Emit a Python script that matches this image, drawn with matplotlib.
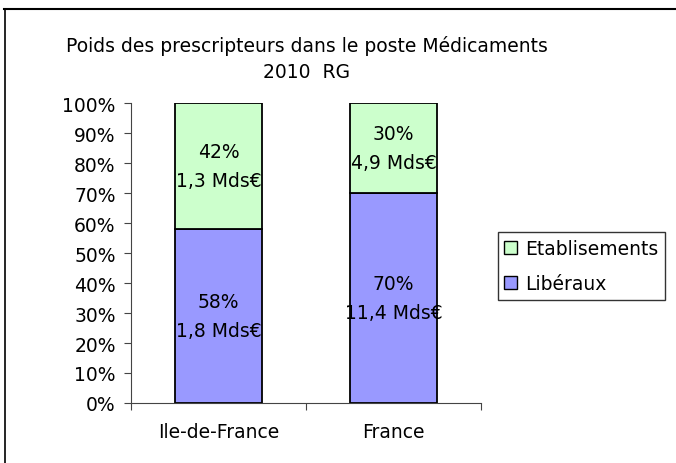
import matplotlib
matplotlib.use("Agg")
import matplotlib.pyplot as plt
from matplotlib.lines import Line2D
from matplotlib.patches import Patch

categories = ["Ile-de-France", "France"]
liberaux = [58, 70]
etablissements = [42, 30]
lib_labels = ["58%\n1,8 Mds€", "70%\n11,4 Mds€"]
etab_labels = ["42%\n1,3 Mds€", "30%\n4,9 Mds€"]
yticks = list(range(0, 101, 10))
title = "Poids des prescripteurs dans le poste Médicaments\n2010  RG"

plt.rcParams['font.family'] = ['DejaVu Sans']
FS = 13.5

fig = plt.figure(figsize=(6.76, 4.64), dpi=100)
W, H = 676, 464
ax = fig.add_axes([131 / W, 1 - 404 / H, 350 / W, 300 / H])

green = "#CCFFCC"
blue = "#9999FF"
x = [0, 1]
ax.bar(x, liberaux, width=0.5, color=blue, edgecolor="black", linewidth=1.3)
ax.bar(x, etablissements, bottom=liberaux, width=0.5, color=green, edgecolor="black", linewidth=1.3)

for i in range(len(categories)):
    ax.text(x[i], liberaux[i] / 2, lib_labels[i], ha="center", va="center",
            fontsize=FS, linespacing=1.65)
    ax.text(x[i], liberaux[i] + etablissements[i] / 2, etab_labels[i], ha="center", va="center",
            fontsize=FS, linespacing=1.65)

ax.set_xlim(-0.5, 1.5)
ax.set_ylim(0, 100)
ax.set_yticks(yticks)
ax.set_yticklabels([f"{v}%" for v in yticks], fontsize=FS)
ax.set_xticks([-0.5, 0.5, 1.5])
ax.set_xticklabels([])
ax.set_xticks(x, minor=True)
ax.set_xticklabels(categories, minor=True, fontsize=FS)
ax.tick_params(axis="x", which="minor", length=0, pad=14)
ax.tick_params(axis="x", which="major", length=5, direction="out", color="#444444")
ax.tick_params(axis="y", length=5, direction="out", pad=6, color="#444444")
for s in ["top", "right"]:
    ax.spines[s].set_visible(False)
ax.spines["left"].set_color("#444444")
ax.spines["bottom"].set_color("#444444")

fig.text(307 / W, 1 - 59 / H, title, ha="center", va="center", fontsize=FS, linespacing=1.5)

handles = [Patch(facecolor=green, edgecolor="black", label="Etablisements"),
           Patch(facecolor=blue, edgecolor="black", label="Libéraux")]
leg = fig.legend(handles=handles, loc="center", bbox_to_anchor=(581 / W, 1 - 267 / H),
                 fontsize=FS, frameon=True, fancybox=False, edgecolor="black",
                 handlelength=0.7, handleheight=0.7, handletextpad=0.4, labelspacing=0.85,
                 borderpad=0.35, borderaxespad=0)
leg.get_frame().set_linewidth(1.0)

# outer border (left and top)
fig.add_artist(Line2D([4.5 / W, 4.5 / W], [0, 1 - 10 / H], color="black", linewidth=1.2,
                      transform=fig.transFigure))
fig.add_artist(Line2D([4 / W, 1], [1 - 10 / H, 1 - 10 / H], color="black", linewidth=1.5,
                      transform=fig.transFigure))

fig.savefig("out.png", dpi=100)
